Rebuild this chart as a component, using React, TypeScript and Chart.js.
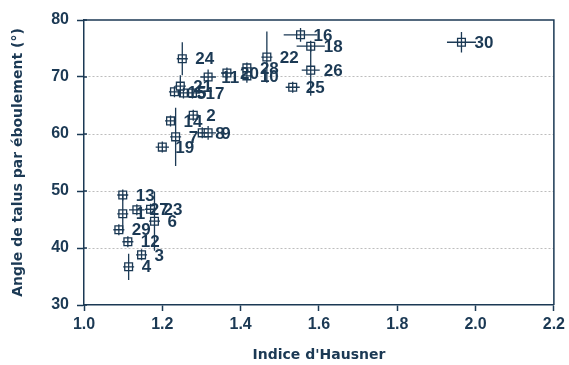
import { useEffect, useRef } from 'react';
import { Chart, registerables } from 'chart.js';

Chart.register(...registerables);

// ---- data ----
const pointIds = ['1','2','3','4','5','6','7','8','9','10','11','12','13','14','15','16','17','18','19','20','21','22','23','24','25','26','27','28','29','30'];
const hausner = [1.099,1.279,1.147,1.114,1.254,1.180,1.234,1.302,1.317,1.416,1.317,1.112,1.099,1.221,1.231,1.553,1.277,1.579,1.200,1.365,1.246,1.467,1.170,1.251,1.533,1.579,1.135,1.416,1.089,1.964];
const angle = [46.0,63.3,38.8,36.7,67.2,44.7,59.5,60.2,60.2,70.2,70.0,41.1,49.3,62.3,67.4,77.4,67.2,75.4,57.7,70.7,68.4,73.5,46.8,73.2,68.2,71.2,46.7,71.6,43.2,76.1];
const hausnerErr = [0.006,0.008,0.006,0.006,0.008,0.006,0.006,0.008,0.020,0.008,0.020,0.006,0.006,0.013,0.010,0.043,0.010,0.036,0.017,0.015,0.006,0.008,0.006,0.006,0.018,0.023,0.020,0.008,0.006,0.037];
const angleErr = [3.3,0.8,0.6,2.3,0.8,5.2,5.1,0.8,1.2,1.2,1.3,0.6,0.6,0.8,0.8,1.2,0.6,0.6,0.6,0.6,1.9,4.5,0.8,2.9,0.6,4.5,0.6,0.8,0.9,1.8];
const xTickValues = [1.0, 1.2, 1.4, 1.6, 1.8, 2.0, 2.2];
const yTickValues = [30, 40, 50, 60, 70, 80];
const xTitle = "Indice d'Hausner";
const yTitle = 'Angle de talus par éboulement (°)';

const NAVY = '#1b3954';

const overlayPlugin = {
  id: 'overlay',
  beforeDatasetsDraw(chart: any) {
    const { ctx, chartArea, scales } = chart;
    ctx.save();
    ctx.strokeStyle = NAVY;
    ctx.lineWidth = 1.5;
    ctx.beginPath();
    ctx.moveTo(chartArea.left, chartArea.top);
    ctx.lineTo(chartArea.right, chartArea.top);
    ctx.lineTo(chartArea.right, chartArea.bottom);
    ctx.stroke();
    ctx.beginPath();
    yTickValues.forEach((v) => {
      const py = scales.y.getPixelForValue(v);
      ctx.moveTo(chartArea.left, py);
      ctx.lineTo(chartArea.left + 3, py);
    });
    ctx.stroke();
    ctx.restore();
  },
  afterDatasetsDraw(chart: any) {
    const { ctx, scales } = chart;
    const xs = scales.x;
    const ys = scales.y;
    ctx.save();
    ctx.strokeStyle = NAVY;
    ctx.lineWidth = 1.3;
    const h = 5.5;
    for (let i = 0; i < pointIds.length; i++) {
      const px = xs.getPixelForValue(hausner[i]);
      const py = ys.getPixelForValue(angle[i]);
      const x1 = xs.getPixelForValue(hausner[i] - hausnerErr[i]);
      const x2 = xs.getPixelForValue(hausner[i] + hausnerErr[i]);
      const y1 = ys.getPixelForValue(angle[i] - angleErr[i]);
      const y2 = ys.getPixelForValue(angle[i] + angleErr[i]);
      ctx.beginPath();
      ctx.moveTo(Math.min(x1, px - h), py);
      ctx.lineTo(Math.max(x2, px + h), py);
      ctx.moveTo(px, Math.max(y1, py + h));
      ctx.lineTo(px, Math.min(y2, py - h));
      ctx.stroke();
    }
    ctx.fillStyle = NAVY;
    ctx.font = 'bold 17px "Liberation Sans", Arial, sans-serif';
    ctx.textAlign = 'left';
    ctx.textBaseline = 'middle';
    for (let i = 0; i < pointIds.length; i++) {
      const px = xs.getPixelForValue(hausner[i]);
      const py = ys.getPixelForValue(angle[i]);
      ctx.fillText(pointIds[i], px + 13, py + 1);
    }
    ctx.restore();
  },
};

export default function App() {
  const ref = useRef<HTMLCanvasElement>(null);
  useEffect(() => {
    document.body.style.margin = '0';
    const canvas = ref.current!;
    const chart = new Chart(canvas, {
      type: 'scatter',
      data: {
        datasets: [
          {
            data: hausner.map((v, i) => ({ x: v, y: angle[i] })),
            pointStyle: 'rect',
            pointRadius: 5.5,
            pointHoverRadius: 5.5,
            backgroundColor: 'rgba(255,255,255,1)',
            borderColor: NAVY,
            borderWidth: 1.3,
          },
        ],
      },
      options: {
        responsive: false,
        animation: false,
        layout: { padding: { top: 20, right: 12, left: 0, bottom: 0 } },
        plugins: { legend: { display: false }, tooltip: { enabled: false } },
        scales: {
          x: {
            type: 'linear',
            min: 1.0,
            max: 2.2,
            afterFit: (s: any) => { s.height = 60; },
            afterBuildTicks: (s: any) => { s.ticks = xTickValues.map((v) => ({ value: v })); },
            ticks: {
              color: NAVY,
              font: { family: '"Liberation Sans", Arial, sans-serif', size: 16, weight: 'bold' },
              padding: 4,
              callback: (v: any) => Number(v).toFixed(1),
              maxRotation: 0,
            },
            grid: { drawOnChartArea: false, tickLength: 6, tickColor: NAVY, tickWidth: 1.5 },
            border: { color: NAVY, width: 1.5 },
            title: {
              display: true,
              text: xTitle,
              color: NAVY,
              font: { family: '"DejaVu Sans", sans-serif', size: 14, weight: 'bold' },
              padding: { top: 0, bottom: 1 },
            },
          },
          y: {
            type: 'linear',
            min: 30,
            max: 80,
            afterFit: (s: any) => { s.width = 84; },
            afterBuildTicks: (s: any) => { s.ticks = yTickValues.map((v) => ({ value: v })); },
            ticks: {
              color: NAVY,
              font: { family: '"Liberation Sans", Arial, sans-serif', size: 16, weight: 'bold' },
              padding: 8,
            },
            grid: {
              color: (c: any) => (c.tick && (c.tick.value === 30 || c.tick.value === 80) ? 'rgba(0,0,0,0)' : '#bdbdbd'),
              lineWidth: 1,
              tickLength: 7,
              tickColor: NAVY,
              tickWidth: 1.5,
            },
            border: { color: NAVY, width: 1.5, dash: [2, 2] },
            title: {
              display: true,
              text: yTitle,
              color: NAVY,
              font: { family: '"DejaVu Sans", sans-serif', size: 14, weight: 'bold' },
              padding: { top: 10, bottom: 0 },
            },
          },
        },
      },
      plugins: [overlayPlugin],
    });
    return () => chart.destroy();
  }, []);
  return (
    <div style={{ width: 569, height: 365 }}>
      <canvas ref={ref} width={569} height={365} />
    </div>
  );
}
